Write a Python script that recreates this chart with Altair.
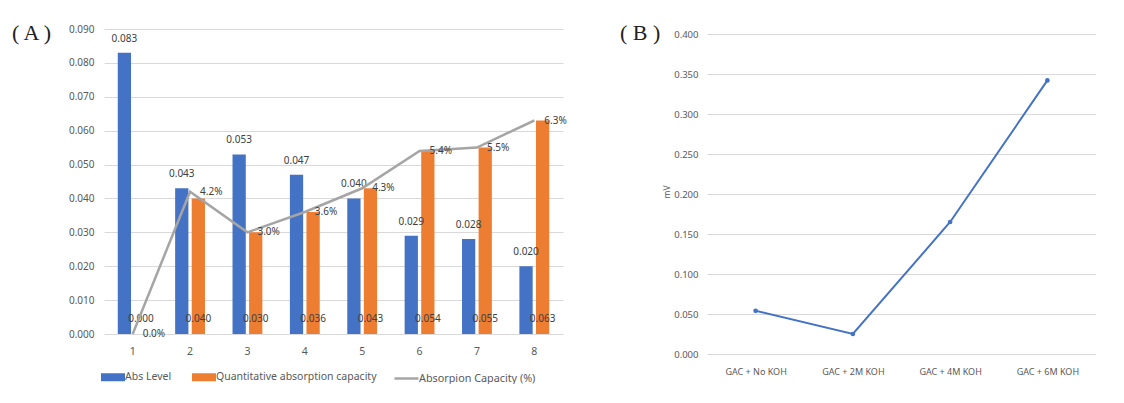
import altair as alt
import pandas as pd

# ---------------- data ----------------
categories = ["1", "2", "3", "4", "5", "6", "7", "8"]
abs_level = [0.083, 0.043, 0.053, 0.047, 0.040, 0.029, 0.028, 0.020]
quant_capacity = [0.000, 0.040, 0.030, 0.036, 0.043, 0.054, 0.055, 0.063]
capacity_pct = [0.0, 4.2, 3.0, 3.6, 4.3, 5.4, 5.5, 6.3]
bar_series = ["Abs Level", "Quantitative absorption capacity"]
line_series = ["Absorpion Capacity (%)"]
y_ticks_a = [0.0, 0.01, 0.02, 0.03, 0.04, 0.05, 0.06, 0.07, 0.08, 0.09]

koh_labels = ["GAC + No KOH", "GAC + 2M KOH", "GAC + 4M KOH", "GAC + 6M KOH"]
mv_values = [0.054, 0.025, 0.165, 0.342]
y_ticks_b = [0.0, 0.05, 0.1, 0.15, 0.2, 0.25, 0.3, 0.35, 0.4]

BLUE, ORANGE, GRAY = "#4472C4", "#ED7D31", "#A5A5A5"
TXT = "#404040"
AXT = "#595959"
GRID = "#D9D9D9"
FONT = "Noto Sans"

bars_df = pd.DataFrame({
    "cat": categories * 2,
    "series": [bar_series[0]] * len(categories) + [bar_series[1]] * len(categories),
    "value": abs_level + quant_capacity,
})
bars_df["label"] = bars_df["value"].map(lambda v: f"{v:.3f}")
bars_df["base"] = 0.0

line_df = pd.DataFrame({"cat": categories, "pct": capacity_pct, "series": line_series[0]})
line_df["value"] = line_df["pct"] / 100.0
line_df["label"] = line_df["pct"].map(lambda v: f"{v:.1f}%")

b_df = pd.DataFrame({"cond": koh_labels, "mv": mv_values})

# ---------------- panel A ----------------
x_a = alt.X("cat:N", sort=categories,
            scale=alt.Scale(paddingInner=0.48, paddingOuter=0.24),
            axis=alt.Axis(title=None, labelAngle=0, ticks=False, domain=False,
                          labelFontSize=10.5, labelColor=AXT, labelPadding=12, grid=False))
y_scale_a = alt.Scale(domain=[0, 0.09], nice=False, zero=True)
y_axis_a = alt.Axis(title=None, values=y_ticks_a, format=".3f", ticks=False, domain=False,
                    labelFontSize=10, labelColor=AXT, labelPadding=10, gridColor=GRID,
                    labelOverlap=False, tickCount=10)


def ya(field):
    return alt.Y(field, scale=y_scale_a, axis=y_axis_a)


xoff = alt.XOffset("series:N", sort=bar_series, scale=alt.Scale(paddingInner=0.2, paddingOuter=0))

bar_legend = alt.Legend(title=None, orient="bottom", direction="horizontal",
                        symbolType="M-1.5,-0.5H1.5V0.5H-1.5Z", symbolSize=256,
                        labelFontSize=10.5, labelColor=AXT, labelFont=FONT, labelLimit=400,
                        columnPadding=20, labelOffset=3, offset=11, padding=0)
line_legend = alt.Legend(title=None, orient="none", legendX=293, legendY=340,
                         direction="horizontal",
                         symbolType="M-1.5,0H1.5", symbolSize=256, symbolStrokeWidth=2.5,
                         labelFontSize=10.8, labelColor=AXT, labelFont=FONT, labelLimit=400,
                         labelOffset=3, padding=0)

base_bars = alt.Chart(bars_df)
bars = base_bars.mark_bar().encode(
    x=x_a, xOffset=xoff,
    y=ya("value:Q"),
    fill=alt.Fill("series:N", sort=bar_series,
                  scale=alt.Scale(domain=bar_series, range=[BLUE, ORANGE]),
                  legend=bar_legend),
)
blue_labels = base_bars.transform_filter(alt.datum.series == bar_series[0]).mark_text(
    dy=-14, baseline="middle", fontSize=10, color=TXT, font=FONT
).encode(x=x_a, xOffset=xoff, y=ya("value:Q"), text="label:N")
orange_labels = base_bars.transform_filter(alt.datum.series == bar_series[1]).mark_text(
    dy=-15, baseline="middle", fontSize=10, color=TXT, font=FONT
).encode(x=x_a, xOffset=xoff, y=ya("base:Q"), text="label:N")

line = alt.Chart(line_df).mark_line(strokeWidth=2.5).encode(
    x=x_a,
    y=ya("value:Q"),
    stroke=alt.Stroke("series:N", scale=alt.Scale(domain=line_series, range=[GRAY]),
                      legend=line_legend),
)
pct_labels = alt.Chart(line_df).mark_text(
    align="left", baseline="middle", dx=10, fontSize=10, color=TXT, font=FONT
).encode(x=x_a, y=ya("value:Q"), text="label:N")

tag_a = alt.Chart(pd.DataFrame({"t": ["( A )"]})).mark_text(
    align="left", baseline="middle", font="Liberation Serif", fontSize=22, color="#222222"
).encode(x=alt.value(-92), y=alt.value(4), text="t:N")

panel_a = alt.layer(bars, blue_labels, orange_labels, line, pct_labels, tag_a).properties(
    width=459, height=305)

# ---------------- panel B ----------------
line_b = alt.Chart(b_df).mark_line(
    color=BLUE, strokeWidth=2,
    point=alt.OverlayMarkDef(color=BLUE, size=22, filled=True),
).encode(
    x=alt.X("cond:N", sort=koh_labels, scale=alt.Scale(type="point", padding=0.5),
            axis=alt.Axis(title=None, labelAngle=0, ticks=False, domain=False, grid=False,
                          labelFontSize=9, labelColor=AXT, labelPadding=13)),
    y=alt.Y("mv:Q", scale=alt.Scale(domain=[0, 0.40625], nice=False),
            axis=alt.Axis(title="mV", values=y_ticks_b, format=".3f", ticks=False, domain=False,
                          labelFontSize=9.5, labelColor=AXT, labelPadding=9, gridColor=GRID,
                          labelOverlap=False,
                          titleFontSize=8.5, titleFontWeight="normal", titleColor=AXT,
                          titlePadding=2)),
)
tag_b = alt.Chart(pd.DataFrame({"t": ["( B )"]})).mark_text(
    align="left", baseline="middle", font="Liberation Serif", fontSize=22, color="#222222"
).encode(x=alt.value(-87), y=alt.value(4), text="t:N")

panel_b = alt.layer(line_b, tag_b).properties(width=389, height=325)

chart = alt.hconcat(panel_a, panel_b, spacing=53).resolve_scale(fill="independent").configure(
    padding={"top": 14, "left": 4, "right": 0, "bottom": 0},
    font=FONT,
).configure_view(stroke=None)

chart.save("out.html", embed_options={"renderer": "svg", "actions": False})
